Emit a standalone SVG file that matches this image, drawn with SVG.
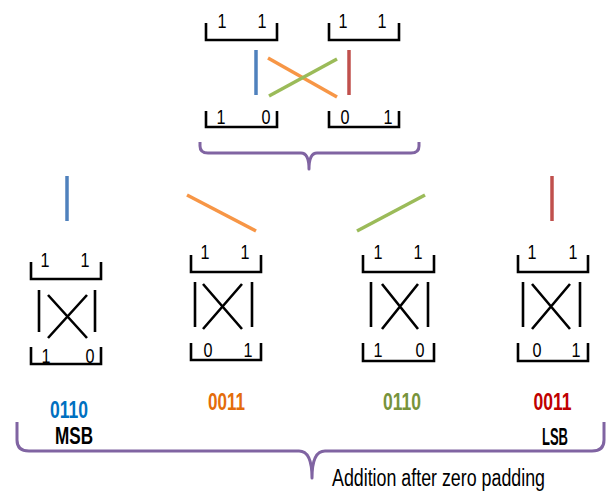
<svg xmlns="http://www.w3.org/2000/svg" width="611" height="495" viewBox="0 0 611 495">
<style>
.br{fill:none;stroke:#000;stroke-width:2.6;stroke-linecap:butt}
.d{font-family:"Liberation Sans",Arial,sans-serif;font-size:20px;fill:#000;text-anchor:middle}
.lbl{font-family:"Liberation Sans",Arial,sans-serif;font-size:23px;font-weight:bold;text-anchor:middle}
.brace{fill:none;stroke:#8064A2;stroke-width:3;stroke-linejoin:round}
.c{fill:none;stroke-width:3.5;stroke-linecap:butt}
</style>
<rect width="611" height="495" fill="#fff"/>

<g id="top-left-upper">
<path class="br" d="M206,23V40H277V23"/>
<text class="d" x="222" y="28" textLength="9" lengthAdjust="spacingAndGlyphs">1</text><text class="d" x="262" y="28" textLength="9" lengthAdjust="spacingAndGlyphs">1</text>
</g>
<g id="top-right-upper">
<path class="br" d="M329,23V40H399V23"/>
<text class="d" x="343" y="28" textLength="9" lengthAdjust="spacingAndGlyphs">1</text><text class="d" x="382" y="28" textLength="9" lengthAdjust="spacingAndGlyphs">1</text>
</g>
<g id="top-left-lower">
<path class="br" d="M206,111V127H277V111"/>
<text class="d" x="221" y="124" textLength="9" lengthAdjust="spacingAndGlyphs">1</text><text class="d" x="266" y="124" textLength="9" lengthAdjust="spacingAndGlyphs">0</text>
</g>
<g id="top-right-lower">
<path class="br" d="M329,111V127H399V111"/>
<text class="d" x="345" y="124" textLength="9" lengthAdjust="spacingAndGlyphs">0</text><text class="d" x="388" y="124" textLength="9" lengthAdjust="spacingAndGlyphs">1</text>
</g>

<g id="box1">
<path class="br" d="M31,262V279H101V262"/>
<text class="d" x="45" y="267" textLength="9" lengthAdjust="spacingAndGlyphs">1</text><text class="d" x="85" y="267" textLength="9" lengthAdjust="spacingAndGlyphs">1</text>
<path class="br" d="M39,290V332M95,290V332M48,295L87,338M87,295L48,338"/>
<path class="br" d="M31,347V364H101V347"/>
<text class="d" x="46" y="363" textLength="9" lengthAdjust="spacingAndGlyphs">1</text><text class="d" x="90" y="363" textLength="9" lengthAdjust="spacingAndGlyphs">0</text>
</g>
<g id="box2">
<path class="br" d="M191,255V272H261V255"/>
<text class="d" x="205" y="259" textLength="9" lengthAdjust="spacingAndGlyphs">1</text><text class="d" x="245" y="259" textLength="9" lengthAdjust="spacingAndGlyphs">1</text>
<path class="br" d="M195,282V327M252,282V327M203,284L242,329M242,284L203,329"/>
<path class="br" d="M191,343V360H261V343"/>
<text class="d" x="208" y="357" textLength="9" lengthAdjust="spacingAndGlyphs">0</text><text class="d" x="248" y="357" textLength="9" lengthAdjust="spacingAndGlyphs">1</text>
</g>
<g id="box3">
<path class="br" d="M363,255V272H434V255"/>
<text class="d" x="378" y="259" textLength="9" lengthAdjust="spacingAndGlyphs">1</text><text class="d" x="418" y="259" textLength="9" lengthAdjust="spacingAndGlyphs">1</text>
<path class="br" d="M371,282V327M428,282V327M382,284L418,329M418,284L382,329"/>
<path class="br" d="M363,343V361H434V343"/>
<text class="d" x="378" y="357" textLength="9" lengthAdjust="spacingAndGlyphs">1</text><text class="d" x="420" y="357" textLength="9" lengthAdjust="spacingAndGlyphs">0</text>
</g>
<g id="box4">
<path class="br" d="M518,255V272H588V255"/>
<text class="d" x="532" y="259" textLength="9" lengthAdjust="spacingAndGlyphs">1</text><text class="d" x="573" y="259" textLength="9" lengthAdjust="spacingAndGlyphs">1</text>
<path class="br" d="M523,282V327M580,282V327M532,284L570,329M570,284L532,329"/>
<path class="br" d="M518,343V361H588V343"/>
<text class="d" x="537" y="357" textLength="9" lengthAdjust="spacingAndGlyphs">0</text><text class="d" x="576" y="357" textLength="9" lengthAdjust="spacingAndGlyphs">1</text>
</g>

<g id="connectors">
<line class="c" x1="256" y1="50" x2="256" y2="95" stroke="#4F81BD" stroke-width="3"/>
<line class="c" x1="268" y1="58" x2="337" y2="97" stroke="#F79646"/>
<line class="c" x1="269" y1="96" x2="337" y2="59" stroke="#9BBB59"/>
<line class="c" x1="349" y1="50" x2="349" y2="95" stroke="#C0504D" stroke-width="3"/>
<line class="c" x1="67" y1="176" x2="67" y2="221" stroke="#4F81BD" stroke-width="3"/>
<line class="c" x1="187" y1="195" x2="256" y2="231" stroke="#F79646"/>
<line class="c" x1="357" y1="231" x2="425" y2="195" stroke="#9BBB59"/>
<line class="c" x1="552" y1="176" x2="552" y2="221" stroke="#C0504D" stroke-width="3"/>
<path class="brace" d="M200,142V146Q200,153 208,153H301Q309,153 309,169Q309,153 317,153H411Q419,153 419,146V142"/>
<path class="brace" d="M17,422V440Q17,451 29,451H299Q312,451 312,478Q312,451 325,451H592Q604,451 604,440V422"/>
</g>

<g id="labels">
<text class="lbl" x="69" y="418" fill="#0070C0" textLength="38" lengthAdjust="spacingAndGlyphs">0110</text>
<text class="lbl" x="226.5" y="410" fill="#E46C0A" textLength="37" lengthAdjust="spacingAndGlyphs">0011</text>
<text class="lbl" x="402" y="410" fill="#77933C" textLength="38" lengthAdjust="spacingAndGlyphs">0110</text>
<text class="lbl" x="552.5" y="410" fill="#C00000" textLength="38" lengthAdjust="spacingAndGlyphs">0011</text>
<text class="lbl" x="74" y="444" fill="#000" textLength="38" lengthAdjust="spacingAndGlyphs">MSB</text>
<text class="lbl" x="555" y="445" fill="#000" textLength="26" lengthAdjust="spacingAndGlyphs">LSB</text>
<text x="332" y="486" font-family="'Liberation Sans',Arial,sans-serif" font-size="23" fill="#000" textLength="213" lengthAdjust="spacingAndGlyphs">Addition after zero padding</text>
</g>
</svg>
